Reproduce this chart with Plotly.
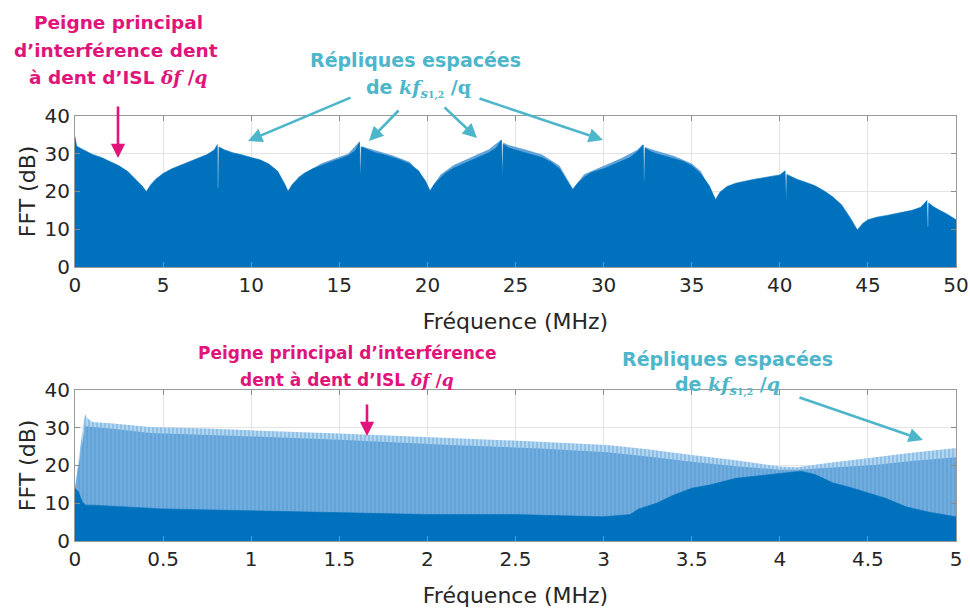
import plotly.graph_objects as go

# ---------------- data ----------------
# Top panel: spectrum envelope over 0-50 MHz (dB)
top_freq = [0, 0.1, 0.5, 1, 1.5, 2, 2.5, 3, 3.5, 3.8, 4.05, 4.3, 4.6, 5, 5.5, 6, 6.5, 7, 7.5, 7.9,
            8.08, 8.1, 8.14, 8.17, 8.5, 9, 9.5, 10, 10.5, 11, 11.5, 11.9, 12.1, 12.35, 12.7, 13, 13.5,
            14, 14.5, 15, 15.5, 15.9, 16.15, 16.18, 16.22, 16.25, 16.6, 17, 17.5, 18, 18.5, 19, 19.5,
            19.9, 20.15, 20.4, 20.75, 21, 21.5, 22, 22.5, 23, 23.5, 23.9, 24.2, 24.23, 24.27, 24.3,
            24.6, 25, 25.5, 26, 26.5, 27, 27.5, 27.9, 28.25, 28.5, 28.9, 29.3, 30, 30.5, 31, 31.5,
            31.9, 32.25, 32.28, 32.32, 32.35, 32.7, 33, 34, 34.5, 35, 35.5, 36, 36.35, 36.6, 37, 37.5,
            38, 38.5, 39, 39.5, 40, 40.3, 40.33, 40.37, 40.4, 40.7, 41, 41.5, 42, 42.5, 43, 43.5, 44,
            44.4, 44.7, 45, 45.5, 46, 46.5, 47, 47.5, 48, 48.35, 48.38, 48.42, 48.45, 48.7, 49, 49.5, 50]
top_level = [34.5, 32, 31, 29.8, 29, 28, 26.8, 25.3, 23, 21.5, 20, 21.8, 23.3, 24.8, 26, 27, 27.9, 28.8, 29.8, 31,
             32.4, 21, 21, 31.8, 31, 30.2, 29.7, 29, 28.4, 27.3, 25.4, 22, 20, 22, 23.6, 24.8, 26,
             27, 27.8, 28.6, 29.5, 30.8, 33, 25, 25, 31.8, 31, 30.3, 29.8, 29.1, 28.3, 27.3, 25.5,
             22.5, 20, 22, 23.8, 24.8, 26.2, 27.3, 28.3, 29.3, 30.3, 31.5, 33.6, 23, 23, 32.5,
             31.6, 31, 30.4, 29.8, 29, 27.8, 26, 23, 20.4, 22, 23.8, 25, 26, 27, 28, 29,
             30.5, 32.3, 23, 23, 31.5, 30.5, 30, 28.8, 28, 26.8, 24.8, 21.5, 17.8, 19.8, 21.3, 22.2,
             22.8, 23.2, 23.6, 24, 24.4, 25.5, 17, 17, 24.5, 23.8, 23.2, 22.4, 21.5, 20.2, 18.6, 16.5, 13,
             9.8, 11.5, 12.5, 13.2, 13.6, 14, 14.5, 15, 15.8, 17.6, 10.6, 10.6, 17, 16, 15.2, 14, 12.5]

# Second (lighter) channel, only visible where it rises above the first
top_light_freq = [12.1, 12.7, 14, 15.5, 16.15, 16.18, 16.22, 16.25, 16.6, 18, 19, 19.9, 20.15, 20.75, 21.5,
                  22.5, 23.5, 24.2, 24.23, 24.27, 24.3, 24.6, 25.5, 26.5, 27.5, 28.25, 28.9, 30, 31,
                  31.9, 32.25, 32.28, 32.32, 32.35, 32.7, 34, 35, 35.5, 36.35]
top_light_level = [20.3, 24, 27.5, 30, 33.3, 25, 25, 32, 31.5, 29.6, 27.8, 23, 20.4, 24.5, 27,
                   29.2, 31.2, 33.8, 23, 23, 33, 32.3, 31.2, 29.8, 26.8, 20.8, 24.6, 26.8, 28.8,
                   31, 32.6, 23, 23, 31.8, 31.2, 29.4, 27.4, 25.4, 18]

# Bottom panel: zoom on 0-5 MHz
bot_freq = [0, 0.015, 0.03, 0.045, 0.057, 0.07, 0.1, 0.2, 0.43, 0.75, 1.0, 1.5, 2.13, 2.64, 3.02,
            3.25, 3.5, 3.75, 4.0, 4.1, 4.25, 4.55, 4.75, 5.0]
bot_tips = [14, 20, 25, 30, 33.6, 32.5, 31.5, 31.2, 30.2, 29.8, 29.3, 28.5, 27.3, 26.3, 25.4,
            24.3, 22.8, 21.4, 19.7, 19.5, 20.5, 22.3, 23.4, 24.6]
bot_body = [14, 18.5, 23, 28, 30.5, 30.3, 30.2, 29.8, 28.6, 28.2, 27.7, 26.8, 25.4, 24.5, 23.5,
            22.4, 21, 19.8, 18.9, 18.9, 19.3, 20.2, 21.2, 22.2]
bot_dark_freq = [0, 0.02, 0.04, 0.06, 0.1, 0.3, 0.5, 1.0, 1.5, 2.0, 2.5, 3.0, 3.15, 3.2, 3.3, 3.4,
                 3.5, 3.6, 3.75, 3.9, 4.0, 4.12, 4.2, 4.3, 4.4, 4.5, 4.6, 4.72, 4.85, 5.0]
bot_dark = [14, 13, 10.5, 9.5, 9.5, 9, 8.5, 8, 7.5, 7, 7, 6.4, 7, 8.5, 10, 12.2,
            14, 14.8, 16.6, 17.4, 18, 18.5, 17.6, 15.4, 14.2, 12.7, 11.3, 9, 7.6, 6.4]

top_xticks = [0, 5, 10, 15, 20, 25, 30, 35, 40, 45, 50]
bot_xticks = [0, 0.5, 1, 1.5, 2, 2.5, 3, 3.5, 4, 4.5, 5]
bot_xticklabels = ["0", "0.5", "1", "1.5", "2", "2.5", "3", "3.5", "4", "4.5", "5"]
yticks = [0, 10, 20, 30, 40]

# ---------------- style ----------------
DARK = "#0072BD"
LIGHT = "#62A4DA"
LIGHT_STRIPE = "#93C3E8"
MAGENTA = "#E0147A"
CYAN = "#4DB6CA"
AXIS_FONT = "DejaVu Sans, Liberation Sans, sans-serif"
NOTE_FONT = "DejaVu Sans, sans-serif"
MATH = "font-family:'DejaVu Serif','Liberation Serif',serif"

fig = go.Figure()

# top panel
fig.add_trace(go.Scatter(x=top_light_freq, y=top_light_level, mode="lines", fill="tozeroy",
                         line=dict(width=0, color=LIGHT), fillcolor=LIGHT,
                         xaxis="x", yaxis="y", hoverinfo="skip"))
fig.add_trace(go.Scatter(x=top_freq, y=top_level, mode="lines", fill="tozeroy",
                         line=dict(width=0.6, color=DARK), fillcolor=DARK,
                         xaxis="x", yaxis="y", hoverinfo="skip"))

# bottom panel: comb tips, comb body, then the darker channel
fig.add_trace(go.Scatter(x=bot_freq, y=bot_tips, mode="lines", fill="tozeroy",
                         line=dict(width=0, color=LIGHT),
                         fillpattern=dict(shape="|", size=4, solidity=0.45,
                                          fgcolor=LIGHT, bgcolor="#B3D5EE"),
                         xaxis="x2", yaxis="y2", hoverinfo="skip"))
fig.add_trace(go.Scatter(x=bot_freq, y=bot_body, mode="lines", fill="tozeroy",
                         line=dict(width=0, color=LIGHT),
                         fillpattern=dict(shape="|", size=4, solidity=0.3,
                                          fgcolor=LIGHT_STRIPE, bgcolor=LIGHT),
                         xaxis="x2", yaxis="y2", hoverinfo="skip"))
fig.add_trace(go.Scatter(x=bot_dark_freq, y=bot_dark, mode="lines", fill="tozeroy",
                         line=dict(width=0.6, color=DARK), fillcolor=DARK,
                         xaxis="x2", yaxis="y2", hoverinfo="skip"))

axis_common = dict(
    showline=True, linecolor="#9a9a9a", linewidth=1, mirror="ticks",
    ticks="inside", ticklen=5, tickcolor="#8a8a8a",
    showgrid=True, gridcolor="#e4e4e4", gridwidth=1, zeroline=False,
    automargin=False,
    tickfont=dict(family=AXIS_FONT, size=20, color="#262626"),
)
title_font = dict(family=AXIS_FONT, size=22, color="#262626")

XDOM = [0.0773, 0.9856]
fig.update_layout(
    width=970, height=608,
    margin=dict(l=0, r=0, t=0, b=0, autoexpand=False),
    paper_bgcolor="white", plot_bgcolor="white",
    showlegend=False,
    xaxis=dict(domain=XDOM, range=[0, 50], tickvals=top_xticks, anchor="y",
               title=dict(text="Fréquence (MHz)", font=title_font, standoff=17), **axis_common),
    yaxis=dict(domain=[0.5609, 0.8092], range=[0, 40], tickvals=yticks, anchor="x",
               title=dict(text="FFT (dB)", font=title_font, standoff=2), **axis_common),
    xaxis2=dict(domain=XDOM, range=[0, 5], tickvals=bot_xticks, ticktext=bot_xticklabels, anchor="y2",
                title=dict(text="Fréquence (MHz)", font=title_font, standoff=17), **axis_common),
    yaxis2=dict(domain=[0.1102, 0.3586], range=[0, 40], tickvals=yticks, anchor="x2",
                title=dict(text="FFT (dB)", font=title_font, standoff=2), **axis_common),
)


def px(x, y):
    return x / 970, 1 - y / 608


def note(x, y, text, color, size=18):
    xx, yy = px(x, y)
    fig.add_annotation(x=xx, y=yy, xref="paper", yref="paper", text=text, showarrow=False,
                       xanchor="center", yanchor="middle", align="center",
                       font=dict(family=NOTE_FONT, size=size, color=color))


def arrow(x0, y0, x1, y1, color):
    xx, yy = px(x1, y1)
    fig.add_annotation(x=xx, y=yy, xref="paper", yref="paper", text="", showarrow=True,
                       ax=x0 - x1, ay=y0 - y1, axref="pixel", ayref="pixel",
                       arrowhead=2, arrowsize=1.1, arrowwidth=2.6, arrowcolor=color)


SUB = "<sub><i>s</i><span style=\"font-size:70%\">1,2</span></sub>"

# annotations, top panel
note(118, 22, "<b>Peigne principal</b>", MAGENTA, 18.5)
note(116, 50, "<b>d’interférence dent</b>", MAGENTA, 18.5)
note(118, 77, f"<b>à dent d’ISL <span style=\"{MATH}\"><i>δf</i> /<i>q</i></span></b>", MAGENTA, 18.5)
arrow(118, 105, 118, 158, MAGENTA)

note(415, 60, "<b>Répliques espacées</b>", CYAN, 19)
note(418, 88, f"<b>de <span style=\"{MATH}\"><i>kf</i>{SUB} /q</span></b>", CYAN, 19)
arrow(352, 97, 248, 141, CYAN)
arrow(400, 109, 369, 141, CYAN)
arrow(443, 106, 477, 138, CYAN)
arrow(478, 98, 603, 140, CYAN)

# annotations, bottom panel
note(347, 353, "<b>Peigne principal d’interférence</b>", MAGENTA, 17)
note(347, 380, f"<b>dent à dent d’ISL <span style=\"{MATH}\"><i>δf</i> /<i>q</i></span></b>", MAGENTA, 17)
arrow(367, 403, 367, 436, MAGENTA)

note(727, 359, "<b>Répliques espacées</b>", CYAN, 19)
note(727, 386, f"<b>de <span style=\"{MATH}\"><i>kf</i>{SUB} /<i>q</i></span></b>", CYAN, 19)
arrow(798, 397, 923, 440, CYAN)

fig.write_html("out.html")
